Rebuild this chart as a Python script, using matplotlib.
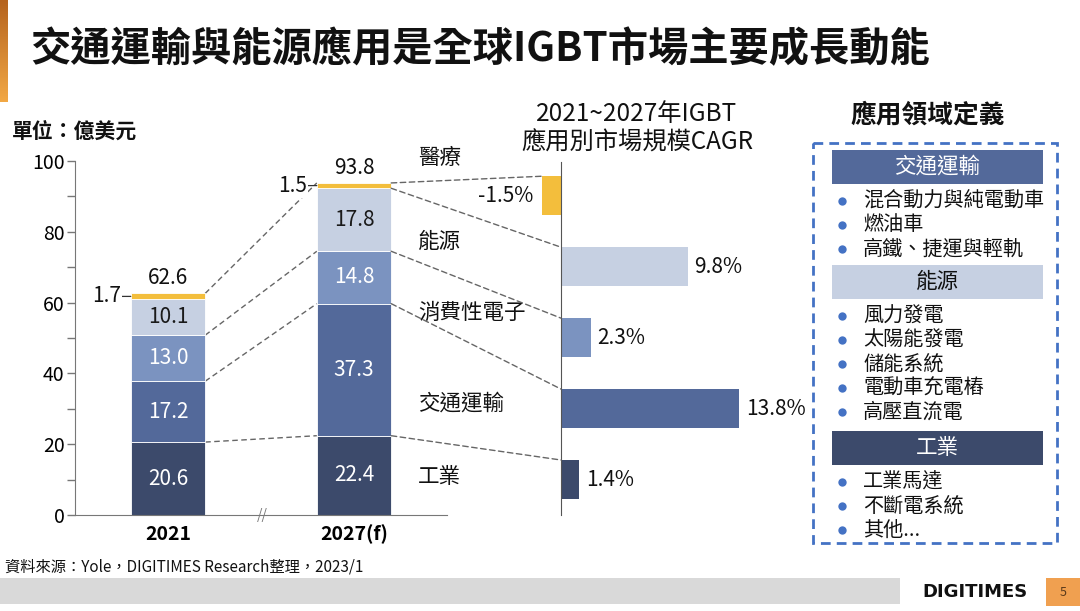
import numpy as np
import matplotlib
matplotlib.use('Agg')
import matplotlib.pyplot as plt
from matplotlib.patches import Rectangle, ConnectionPatch
from matplotlib.colors import LinearSegmentedColormap

plt.rcParams['font.family'] = ['Noto Sans CJK TC', 'DejaVu Sans']

# data
years = ['2021', '2027(f)']
segments = ['工業', '交通運輸', '消費性電子', '能源', '醫療']
industry = [20.6, 22.4]
transport = [17.2, 37.3]
consumer = [13.0, 14.8]
energy = [10.1, 17.8]
medical = [1.7, 1.5]
totals = [62.6, 93.8]
cagr = [1.4, 13.8, 2.3, 9.8, -1.5]   # same order as segments

seg_values = [industry, transport, consumer, energy, medical]
seg_colors = ['#3C4A6B', '#53699A', '#7B93C0', '#C6D0E2', '#F3BE3C']
label_colors = ['white', 'white', 'white', '#1A1A1A', None]

# right panel text
panel_groups = [
    ('交通運輸', ['混合動力與純電動車', '燃油車', '高鐵、捷運與輕軌']),
    ('能源', ['風力發電', '太陽能發電', '儲能系統', '電動車充電樁', '高壓直流電']),
    ('工業', ['工業馬達', '不斷電系統', '其他...']),
]

fig = plt.figure(figsize=(10.8, 6.11), dpi=100)

# background / decoration layer in pixel coords
bg = fig.add_axes([0, 0, 1, 1])
bg.set_xlim(0, 1080)
bg.set_ylim(611, 0)
bg.axis('off')

grad = np.linspace(0, 1, 100).reshape(-1, 1)
cmap = LinearSegmentedColormap.from_list('acc', ['#B5631E', '#F2A845'])
bg.imshow(grad, extent=[0, 8, 102, 0], aspect='auto', cmap=cmap)

bg.text(30, 50, '交通運輸與能源應用是全球IGBT市場主要成長動能', fontsize=29,
        fontweight='bold', va='center', ha='left', color='#111111')
bg.text(12, 131, '單位：億美元', fontsize=15, fontweight='bold', va='center', color='#111111')

bg.text(637, 114, '2021~2027年IGBT', fontsize=17.5, ha='center', va='center',
        color='#111111', fontweight='medium')
bg.text(637, 143, '應用別市場規模CAGR', fontsize=17.5, ha='center', va='center',
        color='#111111', fontweight='medium')

# category labels beside the CAGR chart
cat_label_y = [477, 404, 313, 242, 158]
for name, yy in zip(segments, cat_label_y):
    bg.text(418, yy, name, fontsize=15.5, va='center', ha='left', color='#111111',
            fontweight='medium')

# footer
bg.text(5, 567, '資料來源：Yole，DIGITIMES Research整理，2023/1', fontsize=11,
        va='center', ha='left', color='#111111')
bg.add_patch(Rectangle((0, 578), 900, 26, color='#D9D9D9', lw=0))
bg.add_patch(Rectangle((1046, 578), 34, 28, color='#F0A050', lw=0))
bg.text(1063, 592, '5', fontsize=9, ha='center', va='center', color='#5A3A1A')
bg.text(975, 592, 'DIGITIMES', fontsize=13, fontweight='bold', ha='center', va='center',
        family=['Liberation Sans Narrow', 'DejaVu Sans'], color='#111111')

# right panel
bg.text(928, 115, '應用領域定義', fontsize=18.5, fontweight='bold', ha='center', va='center',
        color='#111111')
bg.add_patch(Rectangle((813, 143), 244, 400, fill=False, edgecolor='#4472C4', lw=2,
                       linestyle=(0, (3.5, 2.2))))
band_colors = {'交通運輸': ('#53699A', 'white'), '能源': ('#C6D0E2', '#111111'),
               '工業': ('#3C4A6B', 'white')}
band_top = [150, 265, 431]
for (head, items), top in zip(panel_groups, band_top):
    fc, tc = band_colors[head]
    bg.add_patch(Rectangle((832, top), 211, 34, color=fc, lw=0))
    bg.text(937.5, top + 17, head, fontsize=15.5, ha='center', va='center', color=tc,
            fontweight='medium')
    for k, item in enumerate(items):
        yy = top + 51 + 24 * k
        bg.plot(842, yy, 'o', ms=6, color='#4472C4', mec='none')
        bg.text(863, yy, item, fontsize=14.5, ha='left', va='center', color='#111111',
                fontweight='medium')

# stacked bar chart
ax = fig.add_axes([75 / 1080, 1 - 515 / 611, 372 / 1080, 354 / 611])
ax.patch.set_visible(False)
x = np.arange(len(years))
w = 0.40
bottoms = np.zeros(len(years))
for vals, col, lc in zip(seg_values, seg_colors, label_colors):
    vals = np.array(vals)
    ax.bar(x, vals, w, bottom=bottoms, color=col, edgecolor='white', linewidth=0.6, zorder=2)
    if lc is not None:
        for xi, v, b in zip(x, vals, bottoms):
            ax.text(xi, b + v / 2, f'{v:.1f}', ha='center', va='center', fontsize=15,
                    color=lc, zorder=4, fontweight='medium')
    bottoms = bottoms + vals

# medical small labels with leader
med_bottom = np.array(totals) - np.array(medical)
for xi, v, b in zip(x, medical, med_bottom):
    ax.annotate(f'{v:.1f}', xy=(xi - w / 2, b + v / 2), xytext=(-7, 0),
                textcoords='offset points', ha='right', va='center', fontsize=15,
                color='#111111', zorder=5, fontweight='medium',
                bbox=dict(boxstyle='square,pad=0.05', fc='white', ec='none'),
                arrowprops=dict(arrowstyle='-', color='#333333', lw=0.9,
                                shrinkA=0, shrinkB=0))
for xi, t in zip(x, totals):
    ax.annotate(f'{t:.1f}', xy=(xi, t), xytext=(0, 3), textcoords='offset points',
                ha='center', va='bottom', fontsize=15, color='#111111', fontweight='medium')

# dashed connectors between the two bars
cum = np.cumsum(np.array(seg_values), axis=0)  # rows: segment tops
for row in [0, 1, 2, 4]:
    ax.plot([x[0] + w / 2, x[1] - w / 2], [cum[row, 0], cum[row, 1]], ls=(0, (4, 2.5)),
            color='#666666', lw=1, zorder=1)

ax.set_xlim(-0.5, 1.5)
ax.set_ylim(0, 100)
ax.set_yticks(np.arange(0, 101, 20))
ax.set_yticks(np.arange(10, 100, 20), minor=True)
ax.tick_params(axis='y', which='both', length=5.5, width=1, color='#777777',
               labelsize=14, pad=2)
ax.set_xticks(x)
ax.set_xticklabels(years, fontsize=14, fontweight='bold')
ax.tick_params(axis='x', length=0, pad=7)
for s in ['top', 'right']:
    ax.spines[s].set_visible(False)
for s in ['left', 'bottom']:
    ax.spines[s].set_color('#777777')
ax.text(0.505, 0, '//', fontsize=10, ha='center', va='center', color='#777777',
        clip_on=False, zorder=6)

# CAGR bar chart
ax2 = fig.add_axes([530 / 1080, 1 - 515 / 611, 270 / 1080, 353.3 / 611])
ypos = np.arange(len(segments))
h = 0.55
ax2.barh(ypos, cagr, h, color=seg_colors, zorder=2)
for yy, v in zip(ypos, cagr):
    if v >= 0:
        ax2.annotate(f'{v:.1f}%', xy=(v, yy), xytext=(5, 0), textcoords='offset points',
                     ha='left', va='center', fontsize=15, color='#111111', fontweight='medium')
    else:
        ax2.annotate(f'{v:.1f}%', xy=(v, yy), xytext=(-6, 0), textcoords='offset points',
                     ha='right', va='center', fontsize=15, color='#111111', fontweight='medium')
ax2.set_xlim(-2.4, 18.5)
ax2.set_ylim(-0.5, 4.48)
ax2.set_xticks([])
ax2.set_yticks([])
for s in ['top', 'right', 'bottom']:
    ax2.spines[s].set_visible(False)
ax2.spines['left'].set_position(('data', 0))
ax2.spines['left'].set_color('#555555')
ax2.patch.set_visible(False)

# connectors from 2027 bar to CAGR bars
for row, (yy, v) in enumerate(zip(ypos, cagr)):
    con = ConnectionPatch(xyA=(x[1] + w / 2, cum[row, 1]), coordsA=ax.transData,
                          xyB=(min(v, 0), yy + h / 2), coordsB=ax2.transData,
                          ls=(0, (4, 2.5)), color='#666666', lw=1)
    fig.add_artist(con)

fig.savefig('out.png', dpi=100)
